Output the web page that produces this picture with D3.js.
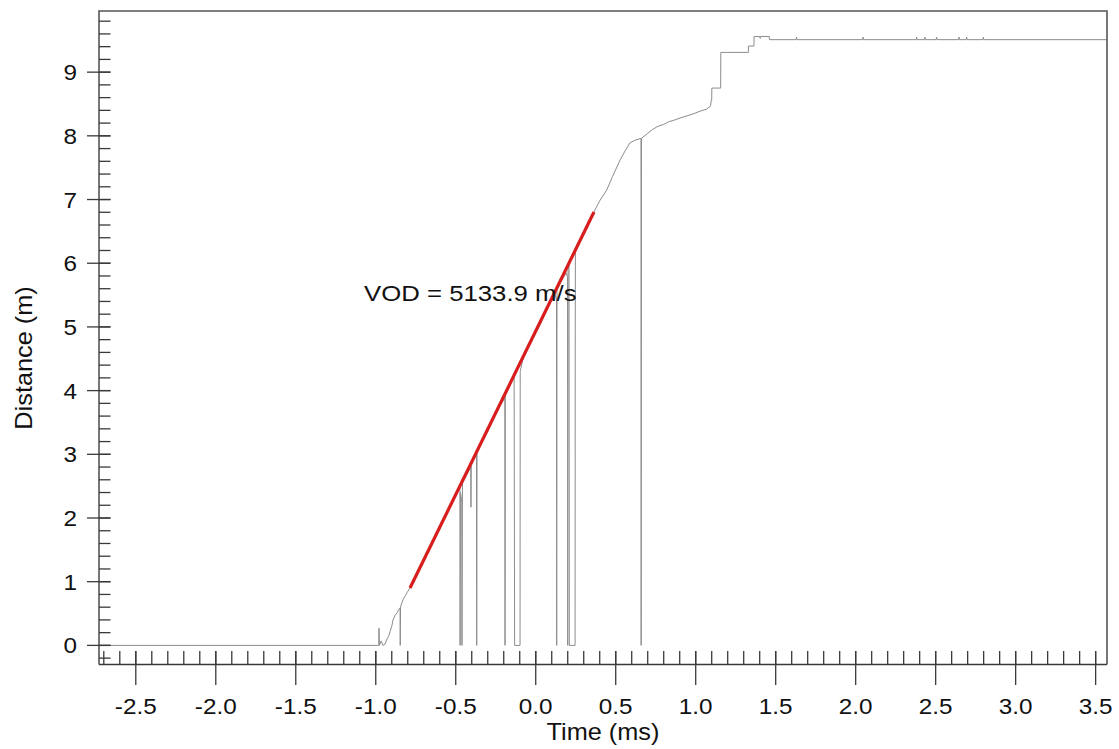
<!DOCTYPE html>
<html>
<head>
<meta charset="utf-8">
<script src="https://cdn.jsdelivr.net/npm/d3@7"></script>
<style>
  html, body { margin: 0; padding: 0; background: #fff; }
  svg { display: block; }
  text { font-family: "Liberation Sans", Arial, Helvetica, sans-serif; fill: #111; }
</style>
</head>
<body>
<svg id="chart" width="1119" height="749"></svg>
<script>
// Probe record: distance of the detonation front versus time
const timeMs = [
  -2.73, -0.990, -0.981, -0.980, -0.977, -0.966, -0.955, -0.942, -0.930, -0.920,
  -0.910, -0.900, -0.892, -0.880, -0.867, -0.855, -0.848, -0.847, -0.845, -0.829,
  -0.815, -0.804, -0.786, -0.760, -0.720, -0.680, -0.640, -0.600, -0.560, -0.520,
  -0.490, -0.474, -0.473, -0.470, -0.462, -0.461, -0.458, -0.440, -0.410, -0.406,
  -0.405, -0.403, -0.390, -0.370, -0.369, -0.367, -0.340, -0.300, -0.260, -0.220,
  -0.193, -0.192, -0.190, -0.160, -0.135, -0.132, -0.098, -0.097, -0.080, -0.040,
  0.000, 0.040, 0.080, 0.120, 0.130, 0.131, 0.133, 0.160, 0.190, 0.199,
  0.200, 0.202, 0.208, 0.210, 0.246, 0.247, 0.248, 0.280, 0.320, 0.350,
  0.371, 0.400, 0.444, 0.480, 0.527, 0.560, 0.589, 0.620, 0.645, 0.658,
  0.659, 0.661, 0.700, 0.730, 0.764, 0.800, 0.830, 0.870, 0.902, 0.940,
  0.980, 1.020, 1.069, 1.093, 1.097, 1.100, 1.101, 1.156, 1.157, 1.329,
  1.330, 1.364, 1.365, 1.400, 1.403, 1.406, 1.460, 1.461, 1.627, 1.630,
  1.633, 2.043, 2.046, 2.049, 2.378, 2.381, 2.384, 2.430, 2.433, 2.436,
  2.503, 2.506, 2.509, 2.643, 2.646, 2.649, 2.691, 2.694, 2.697, 2.795,
  2.798, 2.801, 3.571
];
const distM = [
  0, 0, 0, 0.27, 0, 0.07, 0, 0.02, 0.10, 0.14,
  0.22, 0.30, 0.40, 0.47, 0.51, 0.57, 0.59, 0, 0.61, 0.72,
  0.78, 0.83, 0.90, 1.02, 1.22, 1.45, 1.62, 1.83, 2.05, 2.24,
  2.40, 2.48, 0, 2.40, 2.24, 0, 2.55, 2.63, 2.78, 2.80,
  2.17, 2.82, 2.90, 3.00, 0, 3.02, 3.17, 3.36, 3.58, 3.78,
  3.88, 0, 3.93, 4.08, 4.22, 0, 0, 4.30, 4.50, 4.70,
  4.90, 5.10, 5.33, 5.52, 5.42, 0, 5.58, 5.72, 5.85, 5.78,
  0, 5.90, 5.98, 0, 0, 4.90, 6.18, 6.35, 6.55, 6.72,
  6.84, 6.98, 7.15, 7.36, 7.62, 7.77, 7.89, 7.93, 7.95, 7.96,
  0, 7.96, 8.04, 8.10, 8.15, 8.18, 8.22, 8.25, 8.28, 8.31,
  8.34, 8.38, 8.42, 8.47, 8.56, 8.56, 8.75, 8.75, 9.31, 9.31,
  9.41, 9.41, 9.56, 9.56, 9.53, 9.56, 9.56, 9.51, 9.51, 9.55,
  9.51, 9.51, 9.55, 9.51, 9.51, 9.55, 9.51, 9.51, 9.55, 9.51,
  9.51, 9.55, 9.51, 9.51, 9.55, 9.51, 9.51, 9.55, 9.51, 9.51,
  9.55, 9.51, 9.51
];

// Linear fit over the steady detonation run
const vodMs = 5133.9;          // m/s
const fitStartMs = -0.786;
const fitEndMs = 0.364;
const fitStartDist = 0.90;

// Axis ticks
const xMajorTicks = [-2.5, -2.0, -1.5, -1.0, -0.5, 0.0, 0.5, 1.0, 1.5, 2.0, 2.5, 3.0, 3.5];
const yMajorTicks = [0, 1, 2, 3, 4, 5, 6, 7, 8, 9];

const svg = d3.select("#chart");

const x = d3.scaleLinear().domain([-2.73, 3.571]).range([99, 1107]);
const y = d3.scaleLinear().domain([-0.3, 9.96]).range([664.5, 11]);

const xMinorTicks = d3.range(-27, 36).map(d => d / 10);
const yMinorTicks = d3.range(-1, 50).map(d => d / 5);

const axisColor = "#3a3a3a";

// Data trace
const trace = timeMs.map((t, i) => [t, distM[i]]);
svg.append("path")
  .datum(trace)
  .attr("fill", "none")
  .attr("stroke", "#8c8c8c")
  .attr("stroke-width", 1)
  .attr("stroke-linejoin", "miter")
  .attr("d", d3.line().x(d => x(d[0])).y(d => y(d[1])));

// Fitted VOD line: slope in m/ms = vod / 1000
const slope = vodMs / 1000;
const fit = [fitStartMs, fitEndMs].map(t => [t, fitStartDist + slope * (t - fitStartMs)]);
svg.append("path")
  .datum(fit)
  .attr("fill", "none")
  .attr("stroke", "#d91c1c")
  .attr("stroke-width", 3.2)
  .attr("d", d3.line().x(d => x(d[0])).y(d => y(d[1])));

// Frame (top, left, right) and bottom axis line
const frame = svg.append("g").attr("stroke", "#555").attr("fill", "none");
frame.append("path")
  .attr("stroke-width", 1.6)
  .attr("d", `M${x.range()[0]},${y.range()[0]}V${y.range()[1]}H${x.range()[1]}V${y.range()[0]}`);

// X axis: minor ticks pointing up, major ticks crossing below
const xAxis = svg.append("g").attr("stroke", axisColor).attr("stroke-width", 1.3);
xAxis.append("line")
  .attr("x1", x.range()[0]).attr("x2", x.range()[1])
  .attr("y1", y.range()[0]).attr("y2", y.range()[0]);
xAxis.selectAll("line.minor").data(xMinorTicks).join("line")
  .attr("class", "minor")
  .attr("x1", d => x(d)).attr("x2", d => x(d))
  .attr("y1", y.range()[0]).attr("y2", y.range()[0] - 13.5);
xAxis.selectAll("line.major").data(xMajorTicks).join("line")
  .attr("class", "major")
  .attr("x1", d => x(d)).attr("x2", d => x(d))
  .attr("y1", y.range()[0] - 13.5).attr("y2", y.range()[0] + 20.5);

svg.append("g").selectAll("text").data(xMajorTicks).join("text")
  .attr("text-anchor", "middle")
  .attr("font-size", 22.5)
  .attr("transform", d => `translate(${x(d)},713.5) scale(1.08,1)`)
  .text(d => d3.format(".1f")(d).replace("\u2212", "-"));

// Y axis: minor ticks pointing in, major ticks crossing outward
const yAxis = svg.append("g").attr("stroke", axisColor).attr("stroke-width", 1.3);
yAxis.selectAll("line.minor").data(yMinorTicks).join("line")
  .attr("class", "minor")
  .attr("x1", x.range()[0]).attr("x2", x.range()[0] + 11.5)
  .attr("y1", d => y(d)).attr("y2", d => y(d));
yAxis.selectAll("line.major").data(yMajorTicks).join("line")
  .attr("class", "major")
  .attr("x1", x.range()[0] - 12).attr("x2", x.range()[0] + 11.5)
  .attr("y1", d => y(d)).attr("y2", d => y(d));

svg.append("g").selectAll("text").data(yMajorTicks).join("text")
  .attr("text-anchor", "end")
  .attr("font-size", 22.5)
  .attr("transform", d => `translate(77,${y(d) + 8}) scale(1.08,1)`)
  .text(d => d);

// Axis titles
svg.append("text")
  .attr("text-anchor", "middle")
  .attr("font-size", 23)
  .attr("transform", "translate(603,740) scale(1.1,1)")
  .text("Time (ms)");

svg.append("text")
  .attr("text-anchor", "middle")
  .attr("font-size", 23)
  .attr("transform", "translate(32,358) rotate(-90) scale(1.1,1)")
  .text("Distance (m)");

// Fit annotation
svg.append("text")
  .attr("font-size", 23)
  .attr("transform", "translate(364,300.5) scale(1.12,1)")
  .text(`VOD = ${vodMs.toFixed(1)} m/s`);
</script>
</body>
</html>
